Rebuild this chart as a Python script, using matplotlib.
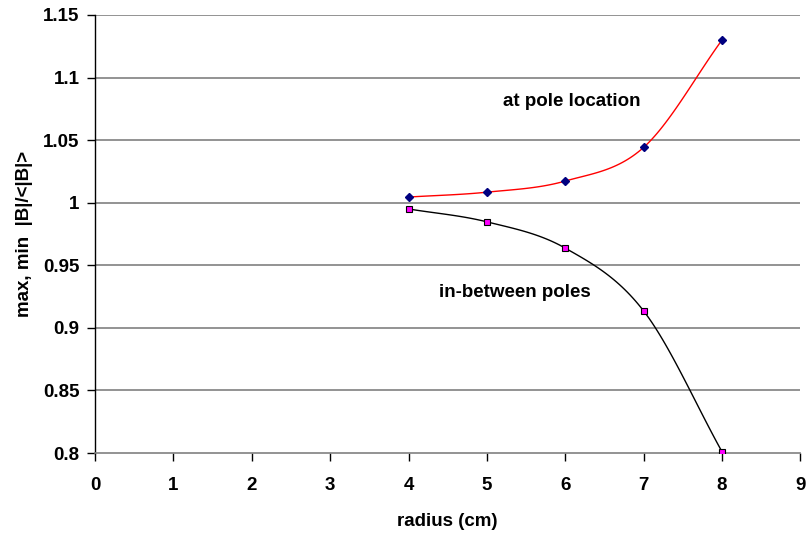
import matplotlib
matplotlib.use('Agg')

import matplotlib.pyplot as plt
import numpy as np

plt.rcParams['font.family'] = ['Liberation Sans', 'DejaVu Sans']
plt.rcParams['font.weight'] = 'bold'

# data
radius = [4, 5, 6, 7, 8]
at_pole = [1.0045, 1.0084, 1.0173, 1.0442, 1.130]
between = [0.995, 0.9847, 0.9637, 0.9135, 0.801]

xticks = list(range(0, 10))
yticks = [0.8, 0.85, 0.9, 0.95, 1.0, 1.05, 1.1, 1.15]
yticklabels = ['0.8', '0.85', '0.9', '0.95', '1', '1.05', '1.1', '1.15']

fs = 13.5


def smooth(x, y, n=30):
    # Excel-style smoothed line (Catmull-Rom through the points)
    x = np.asarray(x, float)
    y = np.asarray(y, float)
    px = np.concatenate([[2 * x[0] - x[1]], x, [2 * x[-1] - x[-2]]])
    py = np.concatenate([[2 * y[0] - y[1]], y, [2 * y[-1] - y[-2]]])
    xs, ys = [], []
    t = np.linspace(0, 1, n)
    for i in range(1, len(px) - 2):
        for p, out in ((px, xs), (py, ys)):
            p0, p1, p2, p3 = p[i - 1], p[i], p[i + 1], p[i + 2]
            out.extend(0.5 * ((2 * p1) + (-p0 + p2) * t
                              + (2 * p0 - 5 * p1 + 4 * p2 - p3) * t ** 2
                              + (-p0 + 3 * p1 - 3 * p2 + p3) * t ** 3))
    return xs, ys


fig = plt.figure(figsize=(8.09, 5.33), dpi=100)
ax = fig.add_axes([0.1174, 0.150, 0.872, 0.822])

for yv in yticks[1:]:
    ax.axhline(yv, color='#808080', lw=1.2, zorder=0)

sx, sy = smooth(radius, at_pole)
ax.plot(sx, sy, color='#ff0000', lw=1, zorder=2)
ax.plot(radius, at_pole, ls='none', marker='D', ms=4.5, color='#000080', zorder=3)

sx, sy = smooth(radius, between)
ax.plot(sx, sy, color='black', lw=1, zorder=2)
ax.plot(radius, between, ls='none', marker='s', ms=5, mfc='#ff00ff', mec='black',
        mew=0.8, zorder=3)

ax.text(5.2, 1.081, 'at pole location', fontsize=fs, fontweight='bold', va='center')
ax.text(4.39, 0.928, 'in-between poles', fontsize=fs, fontweight='bold', va='center')

ax.set_xlim(0, 9)
ax.set_ylim(0.8, 1.15)
ax.set_xticks(xticks)
ax.set_yticks(yticks)
ax.set_yticklabels(yticklabels)
ax.tick_params(axis='both', labelsize=fs, direction='out', length=6, width=1)
ax.tick_params(axis='x', pad=11)
ax.tick_params(axis='y', pad=5)

ax.spines['top'].set_visible(False)
ax.spines['right'].set_visible(False)
ax.spines['bottom'].set_color('#808080')
ax.spines['bottom'].set_linewidth(1.2)
ax.spines['left'].set_linewidth(1)

ax.set_xlabel('radius (cm)', fontsize=fs, fontweight='bold', labelpad=14)
ax.set_ylabel('max, min  |B|/<|B|>', fontsize=fs, fontweight='bold', labelpad=7)

fig.savefig('out.png', dpi=100)
